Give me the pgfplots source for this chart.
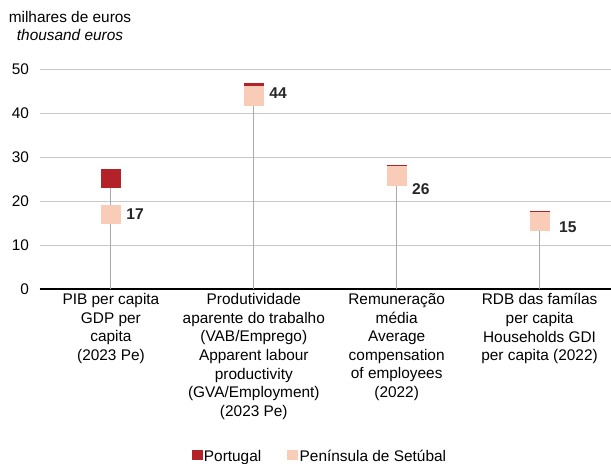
\documentclass[border=0pt]{standalone}
\usepackage{pgfplots}
\pgfplotsset{compat=1.18}
\usepackage{pgfplotstable}
\usepackage{fontspec}
\setmainfont{Liberation Sans}
\usetikzlibrary{calc}
\definecolor{ptred}{RGB}{178,34,40}
\definecolor{setpink}{RGB}{249,204,184}
\definecolor{gridgray}{RGB}{200,200,200}
\definecolor{stemgray}{RGB}{170,170,170}
\newcommand\myfont{\fontsize{15.4bp}{18.6bp}\selectfont}

\pgfplotstableread{
x pt set
0 25.2 17.0
1 44.7 43.9
2 26.1 25.7
3 15.6 15.4
}\data

\pgfplotstableread{
labx laby lab
0 17.1 17
1 44.5 44
2 22.7 26
3.028 14.1 15
}\labels

\begin{document}
\begin{tikzpicture}[font=\myfont]
\begin{axis}[name=ax, scale only axis, width=571.5bp, height=220bp,
  at={(0,0)}, anchor=south west,
  xmin=-0.5, xmax=3.5, ymin=0, ymax=50,
  ytick={0,10,...,50}, ymajorgrids, grid style={gridgray, line width=0.8bp},
  extra y ticks={0}, extra y tick labels={},
  extra y tick style={grid style={black, line width=1.3bp}},
  axis line style={draw=none},
  major tick length=0pt, tick style={draw=none},
  xtick={0,1,2,3},
  xticklabels={{PIB per capita\\GDP per\\capita\\(2023 Pe)},
    {Produtividade\\aparente do trabalho\\(VAB/Emprego)\\Apparent labour\\productivity\\(GVA/Employment)\\(2023 Pe)},
    {Remuneração\\média\\Average\\compensation\\of employees\\(2022)},
    {RDB das famílas\\per capita\\Households GDI\\per capita (2022)}},
  xticklabel style={align=center, font=\myfont, yshift=-1bp},
  yticklabel style={font=\myfont, xshift=-7bp},
  /pgf/number format/assume math mode=true,
  legend style={at={(0.4905,-0.762)}, anchor=center, draw=none, font=\myfont,
    legend columns=2, /tikz/every even column/.append style={column sep=24bp}},
  clip=false,
]
\addplot[ycomb, stemgray, line width=1bp, mark=none, forget plot] table[x=x,y=pt]{\data};
\addplot[only marks, mark=square*, mark size=9.3bp, color=ptred,
  legend image code/.code={\fill[ptred] (0bp,-3bp) rectangle (10bp,6bp);}]
  table[x=x,y=pt]{\data};
\addlegendentry{Portugal}
\addplot[only marks, mark=square*, mark size=9.3bp, color=setpink,
  legend image code/.code={\fill[setpink] (0bp,-3bp) rectangle (10bp,6bp);}]
  table[x=x,y=set]{\data};
\addlegendentry{Península de Setúbal}
\addplot[draw=none, mark=none, forget plot,
  nodes near coords, point meta=explicit symbolic,
  nodes near coords style={anchor=west, xshift=12bp, text=black!85,
    font=\bfseries\fontsize{15.6bp}{18bp}\selectfont}]
  table[x=labx,y=laby,meta=lab]{\labels};
\end{axis}
\node[align=center, font=\myfont] at ($(ax.south west)+(30.5bp,263bp)$)
  {milhares de euros\\\textit{thousand euros}};
\pgfresetboundingbox
\path[use as bounding box] ($(ax.south west)+(-39.5bp,-175bp)$) rectangle ($(ax.south west)+(571.5bp,289bp)$);
\end{tikzpicture}
\end{document}
